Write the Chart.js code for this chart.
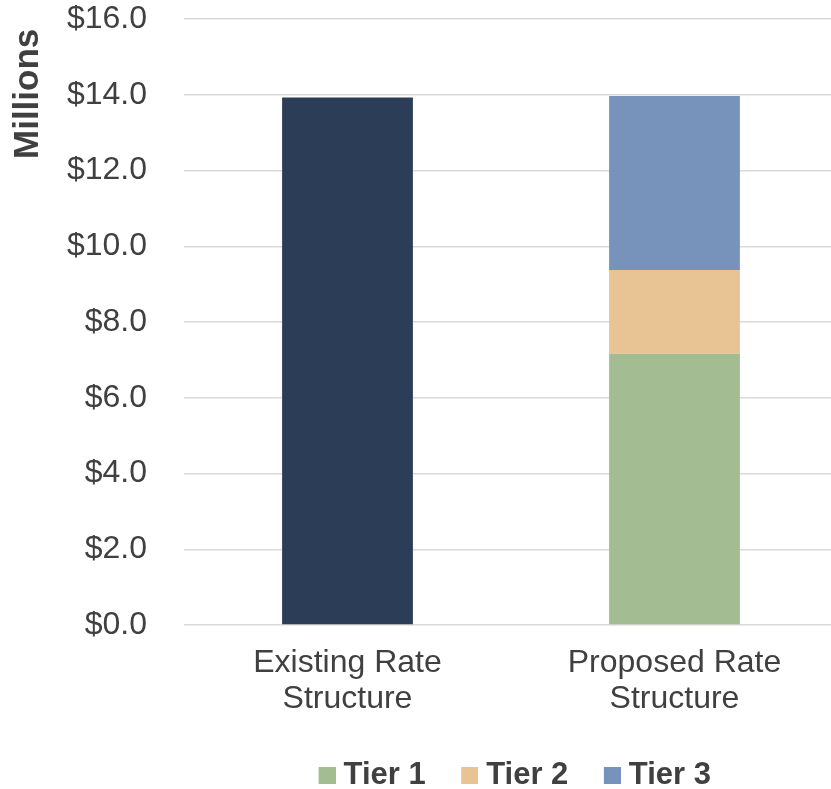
<!DOCTYPE html>
<html>
<head>
<meta charset="utf-8">
<script src="https://cdn.jsdelivr.net/npm/chart.js@4"></script>
<style>
  html, body { margin: 0; padding: 0; background: #fff; overflow: hidden; }
  #wrap { width: 831px; height: 789px; overflow: hidden; }
</style>
</head>
<body>
<div id="wrap"><canvas id="chart" width="838" height="801"></canvas></div>
<script>
// Chart data (millions of dollars)
const categories = [['Existing Rate', 'Structure'], ['Proposed Rate', 'Structure']];
const existingValues = [13.93, null];
const tier1Values = [null, 7.16];
const tier2Values = [null, 2.21];
const tier3Values = [null, 4.60];
const yTicks = [0, 2, 4, 6, 8, 10, 12, 14, 16];

const textColor = '#404040';
const gridColor = '#d9d9d9';
const fontFamily = 'Liberation Sans, Arial, sans-serif';

// Legend swatch: small square drawn closer to the label text than Chart.js' default gap
function makeSwatch(color) {
  const c = document.createElement('canvas');
  c.width = 32;
  c.height = 17;
  const ctx = c.getContext('2d');
  ctx.fillStyle = color;
  ctx.fillRect(15, 0, 17, 17);
  return c;
}

new Chart(document.getElementById('chart'), {
  type: 'bar',
  data: {
    labels: categories,
    datasets: [
      { label: 'Existing', data: existingValues, backgroundColor: '#2B3D57' },
      { label: 'Tier 1', data: tier1Values, backgroundColor: '#A3BC91' },
      { label: 'Tier 2', data: tier2Values, backgroundColor: '#E8C393' },
      { label: 'Tier 3', data: tier3Values, backgroundColor: '#7793BB' },
    ],
  },
  options: {
    responsive: false,
    animation: false,
    barPercentage: 0.4,
    categoryPercentage: 1,
    layout: { padding: { top: 19, left: 0, right: 0, bottom: 0 } },
    scales: {
      x: {
        stacked: true,
        afterFit: scale => { scale.height = 107; },
        grid: { display: false, drawTicks: false },
        border: { display: false },
        ticks: {
          color: textColor,
          padding: 21,
          font: { family: fontFamily, size: 32, lineHeight: 1.1 },
          maxRotation: 0,
        },
      },
      y: {
        stacked: true,
        min: 0,
        max: 16,
        afterFit: scale => {
          scale.width = 184;
          scale.paddingTop = 0;
          scale.paddingBottom = 0;
        },
        afterBuildTicks: scale => { scale.ticks = yTicks.map(v => ({ value: v })); },
        grid: { color: gridColor, lineWidth: 1.5, drawTicks: false },
        border: { display: false },
        ticks: {
          color: textColor,
          padding: 37,
          font: { family: fontFamily, size: 32 },
          callback: v => '$' + Number(v).toFixed(1),
        },
        title: {
          display: true,
          text: 'Millions ',
          align: 'end',
          color: textColor,
          padding: { top: 7, bottom: 0 },
          font: { family: fontFamily, size: 35, weight: 'bold' },
        },
      },
    },
    plugins: {
      tooltip: { enabled: false },
      legend: {
        position: 'bottom',
        fullSize: false,
        labels: {
          usePointStyle: true,
          generateLabels: chart => Chart.defaults.plugins.legend.labels.generateLabels(chart)
            .filter(item => item.text !== 'Existing')
            .map(item => ({ ...item, pointStyle: makeSwatch(item.fillStyle) })),
          color: textColor,
          boxWidth: 17,
          boxHeight: 17,
          padding: 28,
          font: { family: fontFamily, size: 31, weight: 'bold' },
        },
      },
    },
  },
});
</script>
</body>
</html>
